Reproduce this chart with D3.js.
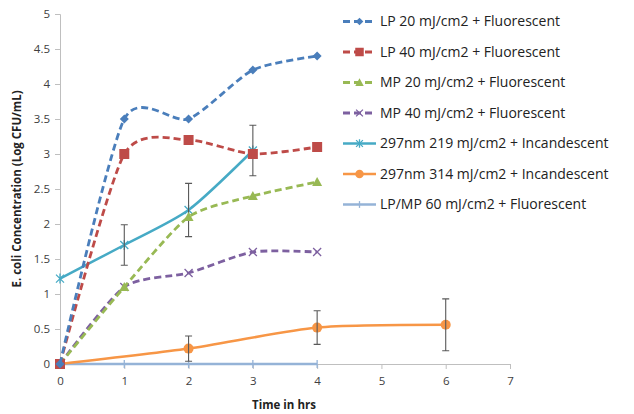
<!DOCTYPE html>
<html><head><meta charset="utf-8">
<script src="https://cdn.jsdelivr.net/npm/d3@7"></script>
<style>body{margin:0;background:#fff}svg{display:block}</style>
</head><body><svg id="c" width="634" height="414"></svg>
<script>
const seriesNames = ["LP 20 mJ/cm2 + Fluorescent","LP 40 mJ/cm2 + Fluorescent","MP 20 mJ/cm2 + Fluorescent","MP 40 mJ/cm2 + Fluorescent","297nm 219 mJ/cm2 + Incandescent","297nm 314 mJ/cm2 + Incandescent","LP/MP 60 mJ/cm2 + Fluorescent"];
const lp20X = [0,1,2,3,4], lp20Y = [0,3.5,3.5,4.2,4.4];
const lp40X = [0,1,2,3,4], lp40Y = [0,3.0,3.2,3.0,3.1];
const mp20X = [0,1,2,3,4], mp20Y = [0,1.1,2.1,2.4,2.6];
const mp40X = [0,1,2,3,4], mp40Y = [0,1.1,1.3,1.6,1.6];
const nm219X = [0,1,2,3], nm219Y = [1.22,1.7,2.2,3.05], nm219Err = [0,0.29,0.38,0.36];
const nm314X = [0,2,4,6], nm314Y = [0,0.22,0.52,0.56], nm314Err = [0,0.18,0.24,0.37];
const lpmpX = [0,1,2,3,4], lpmpY = [0,0,0,0,0];
const xTicks = [0,1,2,3,4,5,6,7];
const yTicks = [0,0.5,1,1.5,2,2.5,3,3.5,4,4.5,5];
const colors = ["#4a7ebb","#be4b48","#98b954","#7d60a0","#46aac5","#f79646","#95b3d7"];
const markers = ["diamond","square","triangle","x","star","circle","plus"];
const dashed = [true,true,true,true,false,false,false];

const svg = d3.select("#c");
const x = d3.scaleLinear().domain([0,7]).range([60,510]);
const y = d3.scaleLinear().domain([0,5]).range([364,14]);
const font = "'Open Sans', sans-serif";

// axes
const xa = svg.append("g").attr("transform","translate(0,364)")
  .call(d3.axisBottom(x).tickValues(xTicks).tickSize(5).tickFormat(d3.format("d")));
const ya = svg.append("g").attr("transform","translate(60,0)")
  .call(d3.axisLeft(y).tickValues(yTicks).tickSize(5).tickFormat(d=>String(d)));
[xa,ya].forEach(a=>{
  a.select(".domain").attr("stroke","#bfbfbf");
  a.selectAll(".tick line").attr("stroke","#bfbfbf");
  a.selectAll("text").attr("fill","#404040").style("font-family",font).style("font-size","11.5px");
});
xa.selectAll("text").attr("dy","1.1em");
ya.selectAll("text").attr("dx","-2px");

svg.append("text").attr("x",284).attr("y",409).attr("text-anchor","middle")
  .style("font-family",font).style("font-size","11.5px").style("font-weight","bold").attr("fill","#222").text("Time in hrs");
svg.append("text").attr("transform","translate(21,189) rotate(-90)").attr("text-anchor","middle")
  .style("font-family",font).style("font-size","11.5px").style("font-weight","bold").attr("fill","#222").text("E. coli Concentration (Log CFU/mL)");

const data = [
  {xs:lp20X,ys:lp20Y},{xs:lp40X,ys:lp40Y},{xs:mp20X,ys:mp20Y},{xs:mp40X,ys:mp40Y},
  {xs:nm219X,ys:nm219Y,err:nm219Err},{xs:nm314X,ys:nm314Y,err:nm314Err},{xs:lpmpX,ys:lpmpY}
];

function marker(g,type,cx,cy,col,s){
  s = s||1;
  if(type==="diamond") g.append("path").attr("d",`M${cx},${cy-4.5*s}L${cx+4.5*s},${cy}L${cx},${cy+4.5*s}L${cx-4.5*s},${cy}Z`).attr("fill",col);
  else if(type==="square") g.append("rect").attr("x",cx-5*s).attr("y",cy-5*s).attr("width",10*s).attr("height",10*s).attr("fill",col);
  else if(type==="triangle") g.append("path").attr("d",`M${cx},${cy-5*s}L${cx+5*s},${cy+4*s}L${cx-5*s},${cy+4*s}Z`).attr("fill",col);
  else if(type==="x") g.append("path").attr("d",`M${cx-4*s},${cy-4*s}L${cx+4*s},${cy+4*s}M${cx-4*s},${cy+4*s}L${cx+4*s},${cy-4*s}`).attr("stroke",col).attr("stroke-width",1.3);
  else if(type==="star") g.append("path").attr("d",`M${cx-4*s},${cy-4*s}L${cx+4*s},${cy+4*s}M${cx-4*s},${cy+4*s}L${cx+4*s},${cy-4*s}M${cx},${cy-5*s}L${cx},${cy+5*s}`).attr("stroke",col).attr("stroke-width",1.3);
  else if(type==="circle") g.append("circle").attr("cx",cx).attr("cy",cy).attr("r",5*s).attr("fill",col);
  else if(type==="plus") g.append("path").attr("d",`M${cx},${cy-4*s}L${cx},${cy+4*s}`).attr("stroke",col).attr("stroke-width",1.3);
}

const line = d3.line().x(d=>x(d[0])).y(d=>y(d[1])).curve(d3.curveCardinal.tension(0.3));
// draw in reverse so first series on top
for(let i=data.length-1;i>=0;i--){
  const s=data[i], pts=s.xs.map((v,j)=>[v,s.ys[j]]);
  const g=svg.append("g");
  g.append("path").attr("d",line(pts)).attr("fill","none").attr("stroke",colors[i])
    .attr("stroke-width",dashed[i]?2.8:2.5).attr("stroke-dasharray",dashed[i]?"7,4":null);
  pts.forEach(p=>marker(g,markers[i],x(p[0]),y(p[1]),colors[i]));
  if(s.err){
    s.err.forEach((e,j)=>{ if(!e) return;
      const cx=x(s.xs[j]), y1=y(s.ys[j]-e), y2=y(s.ys[j]+e);
      g.append("path").attr("d",`M${cx},${y1}L${cx},${y2}M${cx-3.5},${y1}L${cx+3.5},${y1}M${cx-3.5},${y2}L${cx+3.5},${y2}`)
        .attr("stroke","#595959").attr("stroke-width",1.1).attr("fill","none");
    });
  }
}

// legend
const lg = svg.append("g");
seriesNames.forEach((n,i)=>{
  const ly = 21.5 + i*30.5;
  lg.append("path").attr("d",`M343,${ly}L376,${ly}`).attr("stroke",colors[i])
    .attr("stroke-width",dashed[i]?2.8:2.5).attr("stroke-dasharray",dashed[i]?"7,4":null);
  marker(lg,markers[i],359.5,ly,colors[i],0.85);
  lg.append("text").attr("x",380).attr("y",ly).attr("dy","0.35em")
    .style("font-family",font).style("font-size","14px").attr("fill","#222").text(n);
});
</script></body></html>
